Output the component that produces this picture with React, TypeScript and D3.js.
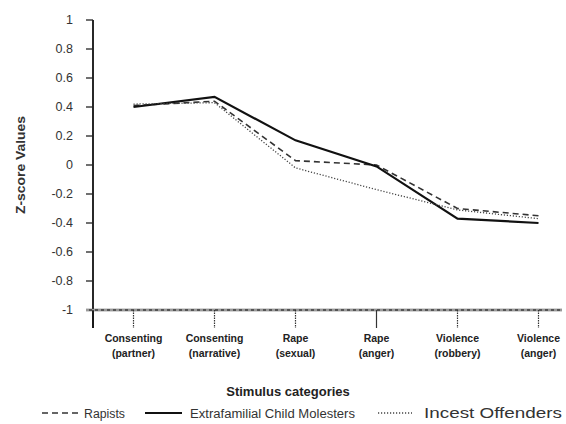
import React from 'react';
import * as d3 from 'd3';

const categories = [
  ['Consenting', '(partner)'],
  ['Consenting', '(narrative)'],
  ['Rape', '(sexual)'],
  ['Rape', '(anger)'],
  ['Violence', '(robbery)'],
  ['Violence', '(anger)'],
];
const rapists = [0.41, 0.44, 0.03, 0.0, -0.3, -0.35];
const extrafamilial = [0.4, 0.47, 0.17, -0.01, -0.37, -0.4];
const incest = [0.42, 0.43, -0.02, -0.17, -0.31, -0.37];
const yTicks = [1, 0.8, 0.6, 0.4, 0.2, 0, -0.2, -0.4, -0.6, -0.8, -1];

const series = [
  { name: 'Rapists', values: rapists, dash: '6,4', width: 1.6, color: '#333' },
  { name: 'Extrafamilial Child Molesters', values: extrafamilial, dash: '', width: 2.2, color: '#111' },
  { name: 'Incest Offenders', values: incest, dash: '1.2,1.8', width: 1.3, color: '#444' },
];

const W = 566;
const H = 424;
const font = '"Liberation Sans", Arial, sans-serif';

export default function App() {
  const x = d3.scaleBand<number>().domain(d3.range(categories.length)).range([93, 579]);
  const cx = (i: number) => x(i)! + x.bandwidth() / 2;
  const y = d3.scaleLinear().domain([-1, 1]).range([310, 20]);

  const line = d3
    .line<number>()
    .x((_, i) => cx(i))
    .y((d) => y(d));

  const legend = [
    { s: series[0], x1: 42, x2: 78, tx: 84, len: 41, fs: 12.5 },
    { s: series[1], x1: 145, x2: 182, tx: 190, len: 165, fs: 12.5 },
    { s: series[2], x1: 378, x2: 412, tx: 424, len: 138, fs: 14.5 },
  ];

  return (
    <svg width={W} height={H} style={{ position: 'absolute', left: 0, top: 0, background: '#fff' }}>
      {/* y axis */}
      <line x1={93} x2={93} y1={y(1)} y2={328} stroke="#111" strokeWidth={1.8} />
      {yTicks.map((t) => (
        <g key={t}>
          <line x1={86} x2={93} y1={y(t)} y2={y(t)} stroke="#222" strokeWidth={1.3} />
          <text
            x={73}
            y={y(t)}
            dy="0.35em"
            textAnchor="end"
            fontFamily={font}
            fontSize={12.5}
            fill="#333"
          >
            {t === 0 ? '0' : String(t)}
          </text>
        </g>
      ))}
      <text
        transform={`translate(25,${y(0)}) rotate(-90)`}
        textAnchor="middle"
        fontFamily={font}
        fontSize={12}
        fontWeight="bold"
        fill="#333"
        textLength={98}
        lengthAdjust="spacingAndGlyphs"
      >
        Z-score Values
      </text>

      {/* x axis */}
      <line x1={86} x2={562} y1={y(-1)} y2={y(-1)} stroke="#555" strokeWidth={2.4} />
      <line x1={86} x2={562} y1={y(-1)} y2={y(-1)} stroke="#ddd" strokeWidth={1} strokeDasharray="3,3" />
      <line x1={93} x2={93} y1={y(-1)} y2={328} stroke="#111" strokeWidth={1.3} />
      {categories.map((c, i) => (
        <g key={i}>
          <line
            x1={cx(i)}
            x2={cx(i)}
            y1={y(-1)}
            y2={y(-1) + 18}
            stroke="#333"
            strokeWidth={1.2}
            strokeDasharray={i === 3 ? '' : '1.5,1'}
          />
          <text
            x={cx(i)}
            y={342}
            textAnchor="middle"
            fontFamily={font}
            fontSize={10.5}
            fontWeight="bold"
            fill="#222"
          >
            <tspan x={cx(i)}>{c[0]}</tspan>
            <tspan x={cx(i)} dy={15}>
              {c[1]}
            </tspan>
          </text>
        </g>
      ))}
      <text x={288} y={396} textAnchor="middle" fontFamily={font} fontSize={13} fontWeight="bold" fill="#222">
        Stimulus categories
      </text>

      {/* series */}
      {series.map((s) => (
        <path
          key={s.name}
          d={line(s.values)!}
          fill="none"
          stroke={s.color}
          strokeWidth={s.width}
          strokeDasharray={s.dash}
        />
      ))}

      {/* legend */}
      {legend.map((l) => (
        <g key={l.s.name}>
          <line
            x1={l.x1}
            x2={l.x2}
            y1={413}
            y2={413}
            stroke={l.s.color}
            strokeWidth={l.s.width}
            strokeDasharray={l.s.dash}
          />
          <text
            x={l.tx}
            y={418}
            fontFamily={font}
            fontSize={l.fs}
            fill="#333"
            textLength={l.len}
            lengthAdjust="spacingAndGlyphs"
          >
            {l.s.name}
          </text>
        </g>
      ))}
    </svg>
  );
}
